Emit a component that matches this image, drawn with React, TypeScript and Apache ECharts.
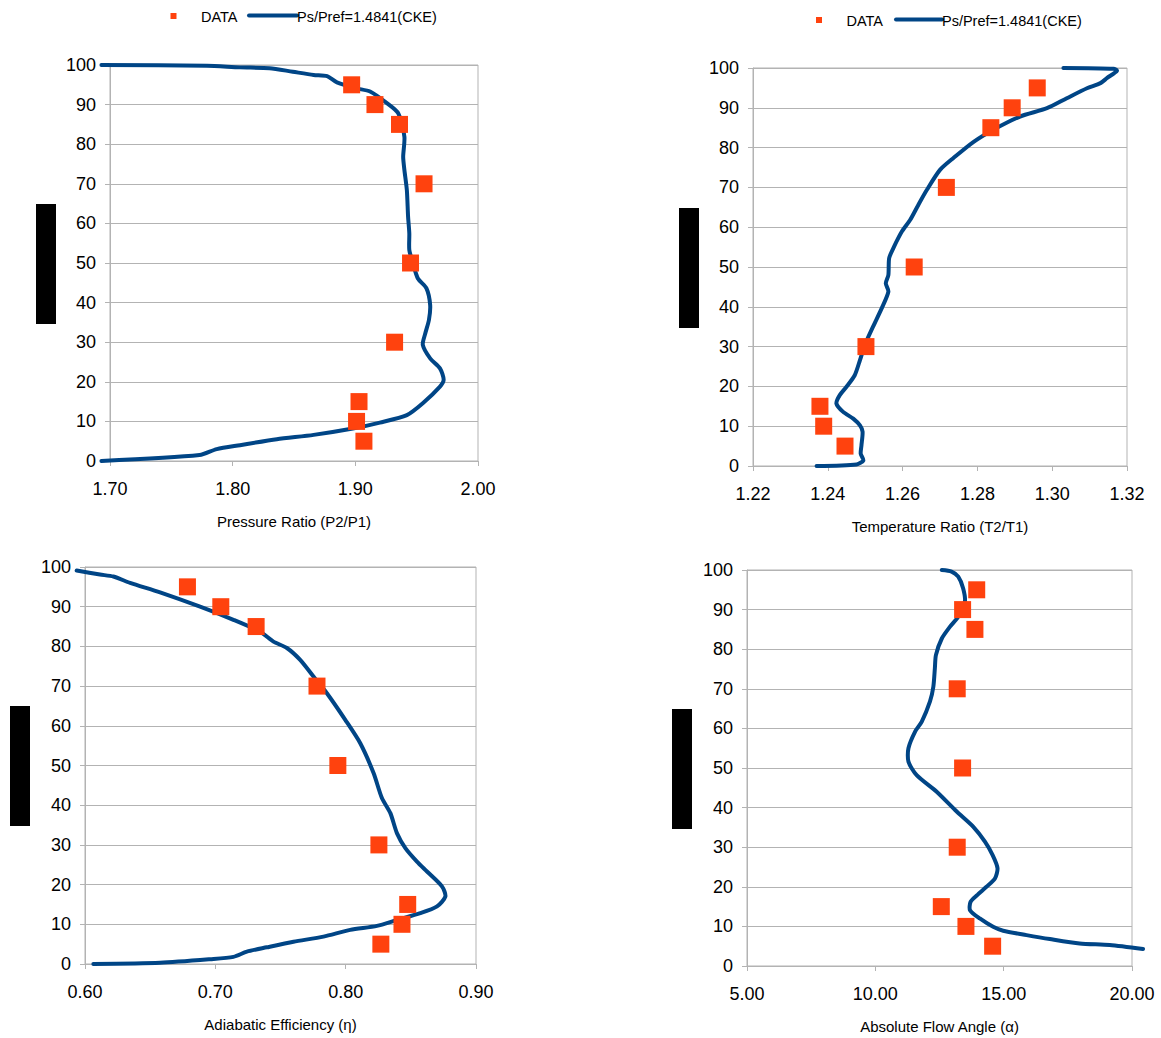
import React, { useEffect, useRef } from "react";
import * as echarts from "echarts";

// Span (%) for measured DATA points (shared by all four panels)
const SPAN = [95, 90, 85, 70, 50, 30, 15, 10, 5];

// Measured DATA (x values) per panel
const prData = [1.897, 1.916, 1.936, 1.956, 1.945, 1.932, 1.903, 1.901, 1.907];
const trData = [1.296, 1.2893, 1.2836, 1.2717, 1.2631, 1.2502, 1.2379, 1.2389, 1.2446];
const effData = [0.6786, 0.7042, 0.7313, 0.778, 0.794, 0.8255, 0.8476, 0.8432, 0.827];
const angData = [13.95, 13.4, 13.88, 13.19, 13.4, 13.19, 12.57, 13.53, 14.57];

// CFD line (CKE), [x, span] pairs, bottom to top
const prLine = [
  [1.693, 0], [1.773, 1.5], [1.787, 3], [1.806, 4], [1.836, 5.5], [1.866, 6.6], [1.898, 8.2],
  [1.92, 9.7], [1.942, 11.6], [1.955, 14.6], [1.969, 18.8], [1.972, 20.5], [1.969, 23.4],
  [1.961, 25.9], [1.955, 29.3], [1.957, 32.2], [1.96, 35.6], [1.961, 39.4], [1.958, 43.6],
  [1.951, 46.1], [1.947, 49.9], [1.944, 53.3], [1.944, 57.5], [1.943, 61.7], [1.942, 68.4],
  [1.94, 73.5], [1.939, 76.8], [1.94, 81.9], [1.935, 87.8], [1.926, 90.3], [1.912, 93.3],
  [1.901, 94.1], [1.885, 95.6], [1.877, 97.2], [1.866, 97.5], [1.849, 98.3], [1.83, 99.2],
  [1.806, 99.4], [1.779, 99.8], [1.693, 100],
];
const trLine = [
  [1.237, 0], [1.2477, 0.4], [1.2495, 1.4], [1.2488, 3.1], [1.249, 5.2], [1.2493, 8.6],
  [1.2486, 10.2], [1.2468, 11.9], [1.2441, 13.6], [1.2423, 15.7], [1.2432, 17.8], [1.245, 19.9],
  [1.2472, 22.8], [1.2486, 26.6], [1.2499, 30.4], [1.2521, 35], [1.2544, 39.6], [1.2562, 43.8],
  [1.2555, 45.9], [1.2562, 48], [1.2564, 52.2], [1.2575, 54.7], [1.2598, 58.9], [1.262, 61.8],
  [1.2642, 65.6], [1.2665, 69.4], [1.27, 74.4], [1.2736, 77.4], [1.2789, 81.4], [1.2843, 84.5],
  [1.2914, 87.8], [1.2986, 89.9], [1.3039, 92.4], [1.3093, 94.9], [1.3129, 96.2], [1.3147, 97.5],
  [1.3173, 99.3], [1.3164, 99.8], [1.303, 100],
];
const effLine = [
  [0.6064, 0], [0.6576, 0.3], [0.696, 1.2], [0.7139, 1.8], [0.7242, 3.1], [0.7395, 4.2],
  [0.76, 5.6], [0.783, 6.9], [0.8035, 8.6], [0.824, 9.6], [0.8394, 11.1], [0.8573, 12.8],
  [0.8701, 14.5], [0.8765, 17], [0.874, 19.5], [0.8624, 23.3], [0.8547, 25.8], [0.8458, 29.2],
  [0.8394, 32.9], [0.8343, 38], [0.8278, 41.8], [0.8214, 48.1], [0.8112, 55.6], [0.7997, 61.5],
  [0.7856, 68.2], [0.7753, 72.4], [0.7651, 76.6], [0.7549, 79.6], [0.7446, 81.2], [0.7344, 83.7],
  [0.7139, 86.7], [0.6883, 90], [0.6576, 93.6], [0.6346, 96], [0.6218, 97.6], [0.6115, 98.1],
  [0.5936, 99.1],
];
const angLine = [
  [20.43, 4.3], [19.13, 5.3], [17.96, 5.7], [16.8, 6.8], [15.89, 7.8], [14.98, 8.9], [14.59, 9.9],
  [14.07, 12], [13.69, 14.1], [13.71, 16.2], [13.95, 17.8], [14.33, 20], [14.66, 22.1],
  [14.76, 24.7], [14.57, 28], [14.27, 31.4], [13.81, 35.2], [13.17, 39], [12.39, 44], [11.61, 48.2],
  [11.29, 51.6], [11.29, 55], [11.55, 59.2], [11.81, 61.7], [12.13, 66.8], [12.26, 70.5],
  [12.32, 75.2], [12.36, 78.5], [12.59, 82.7], [12.91, 85.7], [13.23, 88.2], [13.49, 92],
  [13.42, 95.4], [13.23, 98.3], [12.97, 99.6], [12.59, 100],
];

// Axis ranges
const xRanges = [
  { min: 1.7, max: 2.0, interval: 0.1, name: "Pressure Ratio (P2/P1)" },
  { min: 1.22, max: 1.32, interval: 0.02, name: "Temperature Ratio (T2/T1)" },
  { min: 0.6, max: 0.9, interval: 0.1, name: "Adiabatic Efficiency (η)" },
  { min: 5, max: 20, interval: 5, name: "Absolute Flow Angle (α)" },
];
const legendLabels = ["DATA", "Ps/Pref=1.4841(CKE)"];

const FONT = "'Liberation Sans', Arial, sans-serif";
const LINE_COLOR = "#004586";
const DATA_COLOR = "#ff420e";
const GRID_COLOR = "#b3b3b3";

const grids = [
  { left: 110, top: 65, width: 368, height: 396 },
  { left: 753, top: 68, width: 374, height: 398 },
  { left: 85, top: 567, width: 391, height: 397 },
  { left: 747, top: 570, width: 385, height: 396 },
];

export default function App() {
  const ref = useRef<HTMLDivElement>(null);
  useEffect(() => {
    if (!ref.current) return;
    const chart = echarts.init(ref.current, null, { renderer: "svg" });
    const dataSets = [prData, trData, effData, angData];
    const lineSets = [prLine, trLine, effLine, angLine];

    const xAxis = xRanges.map((r, i) => ({
      type: "value",
      gridIndex: i,
      min: r.min,
      max: r.max,
      interval: r.interval,
      name: r.name,
      nameLocation: "middle",
      nameGap: 53,
      nameTextStyle: { fontFamily: FONT, fontSize: 15, color: "#000" },
      axisLine: { show: true, lineStyle: { color: GRID_COLOR, width: 1 } },
      axisTick: { show: true, inside: false, length: 5, lineStyle: { color: GRID_COLOR } },
      axisLabel: {
        fontFamily: FONT,
        fontSize: 18,
        color: "#000",
        margin: 19,
        formatter: (v: number) => v.toFixed(2),
      },
      splitLine: { show: false },
    }));
    const yAxis = grids.map((_, i) => ({
      type: "value",
      gridIndex: i,
      min: 0,
      max: 100,
      interval: 10,
      axisLine: { show: true, lineStyle: { color: GRID_COLOR, width: 1 } },
      axisTick: { show: true, inside: false, length: 5, lineStyle: { color: GRID_COLOR } },
      axisLabel: { fontFamily: FONT, fontSize: 18, color: "#000", margin: 14 },
      splitLine: { show: true, lineStyle: { color: GRID_COLOR, width: 1 } },
    }));

    const series: any[] = [];
    for (let i = 0; i < 4; i++) {
      const pts = lineSets[i];
      series.push({
        type: "custom",
        name: legendLabels[1],
        coordinateSystem: "cartesian2d",
        xAxisIndex: i,
        yAxisIndex: i,
        data: pts,
        clip: false,
        encode: { x: 0, y: 1 },
        renderItem: (params: any, api: any) => {
          if (params.dataIndex !== 0) return null;
          const points = pts.map((p) => api.coord(p));
          return {
            type: "polyline",
            shape: { points, smooth: 0.25 },
            style: {
              stroke: LINE_COLOR,
              lineWidth: 4,
              fill: "none",
              lineCap: "round",
              lineJoin: "round",
            },
          };
        },
        z: 2,
      });
      series.push({
        type: "scatter",
        name: legendLabels[0],
        xAxisIndex: i,
        yAxisIndex: i,
        data: dataSets[i].map((x, k) => [x, SPAN[k]]),
        symbol: "rect",
        symbolSize: 17,
        itemStyle: { color: DATA_COLOR, opacity: 1 },
        z: 3,
      });
    }

    const legendGraphic = (mx: number, my: number, dx: number, lx1: number, lx2: number, ly: number, ty: number) => [
      { type: "rect", shape: { x: mx, y: my, width: 6, height: 6 }, style: { fill: DATA_COLOR } },
      {
        type: "text",
        x: dx,
        y: ty,
        style: { text: legendLabels[0], fontFamily: FONT, fontSize: 14.5, fill: "#000", verticalAlign: "middle" },
      },
      {
        type: "line",
        shape: { x1: lx1, y1: ly, x2: lx2, y2: ly },
        style: { stroke: LINE_COLOR, lineWidth: 4, lineCap: "round" },
      },
      {
        type: "text",
        x: lx2,
        y: ty,
        style: { text: legendLabels[1], fontFamily: FONT, fontSize: 14.5, fill: "#000", verticalAlign: "middle" },
      },
    ];

    const blackRects = [
      { x: 36, y: 204, w: 20, h: 120 },
      { x: 679, y: 208, w: 20, h: 120 },
      { x: 10, y: 706, w: 20, h: 120 },
      { x: 672, y: 709, w: 20, h: 120 },
    ].map((b) => ({ type: "rect", shape: { x: b.x, y: b.y, width: b.w, height: b.h }, style: { fill: "#000" } }));

    chart.setOption({
      animation: false,
      backgroundColor: "#fff",
      grid: grids.map((g) => ({ ...g, show: true, borderColor: GRID_COLOR, borderWidth: 1, backgroundColor: "transparent" })),
      xAxis,
      yAxis,
      series,
      graphic: [
        ...legendGraphic(170.5, 13, 201, 249, 297, 15.5, 16.5),
        ...legendGraphic(816, 17, 846.5, 896, 942, 19.5, 20.5),
        ...blackRects,
      ],
    });
    return () => chart.dispose();
  }, []);
  return (
    <div
      ref={ref}
      style={{ position: "absolute", left: 0, top: 0, width: 1161, height: 1038, background: "#fff" }}
    />
  );
}
